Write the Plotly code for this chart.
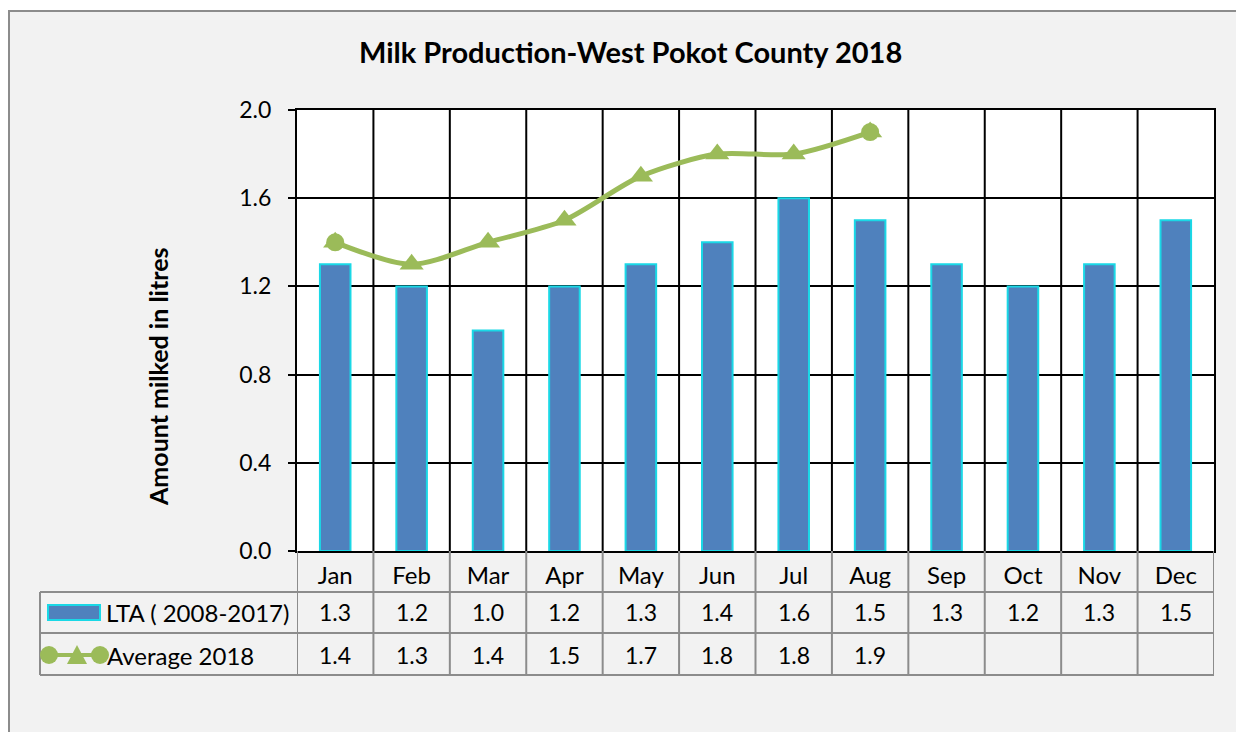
import plotly.graph_objects as go

months = ["Jan", "Feb", "Mar", "Apr", "May", "Jun", "Jul", "Aug", "Sep", "Oct", "Nov", "Dec"]
lta = [1.3, 1.2, 1.0, 1.2, 1.3, 1.4, 1.6, 1.5, 1.3, 1.2, 1.3, 1.5]
avg2018 = [1.4, 1.3, 1.4, 1.5, 1.7, 1.8, 1.8, 1.9]
y_ticks = [0.0, 0.4, 0.8, 1.2, 1.6, 2.0]

W, H = 1236, 732
L, R, T, B = 297, 1214, 110, 551  # plot area in screen pixels
FONT = "Lato"
BAR = "#4f81bd"
BAR_EDGE = "#1ad8e6"
GREEN = "#9bbb59"
GRID_GRAY = "#8c8c8c"


def px(x):
    return (x - L) / (R - L)


def py(y):
    return (B - y) / (B - T)


xs = list(range(len(months)))
xs_avg = list(range(len(avg2018)))

fig = go.Figure()
fig.add_trace(go.Bar(
    x=xs, y=lta, width=0.4, marker=dict(color=BAR, line=dict(color=BAR_EDGE, width=2)),
    name="LTA ( 2008-2017)", showlegend=False,
))
fig.add_trace(go.Scatter(
    x=xs_avg, y=avg2018, mode="lines+markers",
    line=dict(color=GREEN, width=5, shape="spline", smoothing=0.8),
    marker=dict(symbol="triangle-up", size=21, color=GREEN),
    name="Average 2018", showlegend=False,
))
ends = [0, len(avg2018) - 1]
fig.add_trace(go.Scatter(
    x=[xs_avg[i] for i in ends], y=[avg2018[i] for i in ends], mode="markers",
    marker=dict(symbol="circle", size=18, color=GREEN), showlegend=False, hoverinfo="skip",
))

shapes = []
# white surround outside the chart frame (top and left)
shapes.append(dict(type="rect", xref="paper", yref="paper", x0=px(-5), x1=px(W + 5), y0=py(11), y1=py(-5),
                   fillcolor="white", line=dict(width=0), layer="above"))
shapes.append(dict(type="rect", xref="paper", yref="paper", x0=px(-5), x1=px(8), y0=py(H + 5), y1=py(-5),
                   fillcolor="white", line=dict(width=0), layer="above"))
shapes.append(dict(type="line", xref="paper", yref="paper", x0=px(8), x1=px(W + 5), y0=py(11), y1=py(11),
                   line=dict(color=GRID_GRAY, width=2), layer="above"))
shapes.append(dict(type="line", xref="paper", yref="paper", x0=px(9), x1=px(9), y0=py(11), y1=py(H + 5),
                   line=dict(color=GRID_GRAY, width=2), layer="above"))

for k in range(len(months) - 1):
    shapes.append(dict(type="line", xref="x", yref="paper", x0=k + 0.5, x1=k + 0.5, y0=0, y1=1,
                       line=dict(color="black", width=2), layer="below"))

row_lines = [592, 633, 675]
for k in range(len(months) + 1):
    shapes.append(dict(type="line", xref="x", yref="paper", x0=k - 0.5, x1=k - 0.5, y0=0, y1=py(675),
                       line=dict(color=GRID_GRAY, width=2)))
for yy in row_lines:
    shapes.append(dict(type="line", xref="paper", yref="paper", x0=px(40), x1=1, y0=py(yy), y1=py(yy),
                       line=dict(color=GRID_GRAY, width=2)))
shapes.append(dict(type="line", xref="paper", yref="paper", x0=px(40), x1=px(40), y0=py(592), y1=py(675),
                   line=dict(color=GRID_GRAY, width=2)))

shapes.append(dict(type="rect", xref="paper", yref="paper", x0=px(48), x1=px(100), y0=py(620), y1=py(605),
                   fillcolor=BAR, line=dict(color=BAR_EDGE, width=2)))
shapes.append(dict(type="line", xref="paper", yref="paper", x0=px(48), x1=px(100), y0=py(655), y1=py(655),
                   line=dict(color=GREEN, width=4)))
for cx in (49, 100):
    shapes.append(dict(type="circle", xref="paper", yref="paper", x0=px(cx - 9), x1=px(cx + 9),
                       y0=py(655 + 9), y1=py(655 - 9), fillcolor=GREEN, line=dict(width=0)))
tri = f"M {px(67)} {py(664)} L {px(87)} {py(664)} L {px(77)} {py(645)} Z"
shapes.append(dict(type="path", xref="paper", yref="paper", path=tri, fillcolor=GREEN, line=dict(width=0)))

annotations = []
for i, v in enumerate(lta):
    annotations.append(dict(x=xs[i], y=py(612), xref="x", yref="paper", text=f"{v:.1f}", showarrow=False,
                            font=dict(family=FONT, size=23, color="black"), xanchor="center", yanchor="middle"))
for i, v in enumerate(avg2018):
    annotations.append(dict(x=xs_avg[i], y=py(655), xref="x", yref="paper", text=f"{v:.1f}", showarrow=False,
                            font=dict(family=FONT, size=23, color="black"), xanchor="center", yanchor="middle"))
annotations.append(dict(x=px(104), y=py(612), xref="paper", yref="paper", text="LTA ( 2008-2017)",
                        showarrow=False, font=dict(family=FONT, size=24, color="black"),
                        xanchor="left", yanchor="middle"))
annotations.append(dict(x=px(105), y=py(655), xref="paper", yref="paper", text="Average 2018",
                        showarrow=False, font=dict(family=FONT, size=24, color="black"),
                        xanchor="left", yanchor="middle"))
annotations.append(dict(x=px(630), y=py(52), xref="paper", yref="paper",
                        text="<b>Milk Production-West Pokot County 2018</b>", showarrow=False,
                        font=dict(family=FONT, size=29, color="black"), xanchor="center", yanchor="middle"))
annotations.append(dict(x=px(158), y=py(377), xref="paper", yref="paper",
                        text="<b>Amount milked in litres</b>", showarrow=False, textangle=-90,
                        font=dict(family=FONT, size=25, color="black"), xanchor="center", yanchor="middle"))

fig.update_layout(
    width=W, height=H,
    margin=dict(l=L, r=W - R, t=T, b=H - B, pad=0),
    paper_bgcolor="#f2f2f2", plot_bgcolor="white",
    shapes=shapes, annotations=annotations, showlegend=False,
)
fig.update_xaxes(
    range=[-0.5, len(months) - 0.5], tickmode="array", tickvals=xs, ticktext=months,
    showgrid=False, zeroline=False, showline=True, linecolor="black", linewidth=2, mirror=True,
    ticks="", ticklabelstandoff=2, tickfont=dict(family=FONT, size=24, color="black"), fixedrange=True,
)
fig.update_yaxes(
    range=[0, 2.0], tickmode="array", tickvals=y_ticks, ticktext=[f"{t:.1f}" for t in y_ticks],
    showgrid=True, gridcolor="black", gridwidth=2, zeroline=False,
    showline=True, linecolor="black", linewidth=2, mirror=True,
    ticks="outside", ticklen=7, tickcolor="black", tickwidth=2, ticklabelstandoff=12,
    tickfont=dict(family=FONT, size=23, color="black"), fixedrange=True,
)

fig.write_html(
    "out.html",
    config={"displayModeBar": False},
    post_script="document.body.style.margin='0';document.body.style.overflow='hidden';",
)
